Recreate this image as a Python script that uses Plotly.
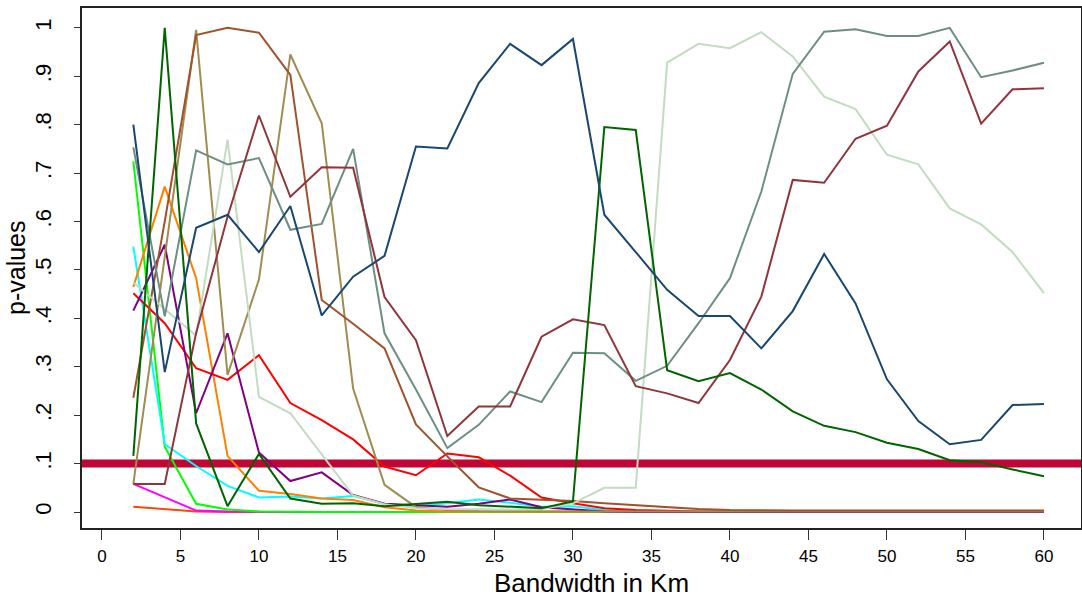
import plotly.graph_objects as go

bandwidth = [2, 4, 6, 8, 10, 12, 14, 16, 18, 20, 22, 24, 26, 28, 30,
             32, 34, 36, 38, 40, 42, 44, 46, 48, 50, 52, 54, 56, 58, 60]

s_navy = [0.80, 0.289, 0.587, 0.614, 0.537, 0.632, 0.406, 0.486, 0.529, 0.755,
          0.751, 0.886, 0.967, 0.923, 0.977, 0.614, 0.537, 0.459, 0.405, 0.405,
          0.338, 0.415, 0.533, 0.431, 0.274, 0.188, 0.140, 0.149, 0.221, 0.223]
s_maroon = [0.058, 0.058, 0.37, 0.61, 0.819, 0.651, 0.712, 0.711, 0.444, 0.355,
            0.157, 0.218, 0.218, 0.362, 0.398, 0.386, 0.260, 0.245, 0.225, 0.314,
            0.445, 0.686, 0.680, 0.771, 0.798, 0.910, 0.972, 0.802, 0.873, 0.875]
s_dkgreen = [0.116, 1.0, 0.183, 0.012, 0.12, 0.028, 0.017, 0.018, 0.012, 0.017,
             0.021, 0.014, 0.011, 0.008, 0.022, 0.795, 0.789, 0.293, 0.27, 0.287,
             0.253, 0.208, 0.178, 0.165, 0.143, 0.130, 0.107, 0.103, 0.088, 0.074]
s_sienna = [0.236, 0.6, 0.985, 1.0, 0.99, 0.903, 0.438, 0.389, 0.338, 0.181,
            0.115, 0.051, 0.028, 0.025, 0.023, 0.018, 0.014, 0.011, 0.006, 0.004,
            0.003, 0.003, 0.003, 0.003, 0.003, 0.003, 0.003, 0.003, 0.003, 0.003]
s_khaki = [0.058, 0.53, 0.996, 0.283, 0.48, 0.945, 0.803, 0.255, 0.056, 0.01,
           0.004, 0.002, 0.001, 0.001, 0.001, 0.001, 0.001, 0.001, 0.001, 0.001,
           0.001, 0.001, 0.001, 0.001, 0.001, 0.001, 0.001, 0.001, 0.001, 0.001]
s_teal = [0.753, 0.404, 0.747, 0.718, 0.731, 0.583, 0.595, 0.75, 0.369, 0.253,
          0.132, 0.18, 0.249, 0.227, 0.329, 0.328, 0.271, 0.302, 0.39, 0.483,
          0.662, 0.905, 0.992, 0.997, 0.983, 0.983, 1.0, 0.898, 0.912, 0.928]
s_pale = [0.474, 0.42, 0.364, 0.769, 0.238, 0.204, 0.12, 0.034, 0.016, 0.008,
          0.006, 0.005, 0.005, 0.006, 0.018, 0.05, 0.05, 0.928, 0.967, 0.958,
          0.991, 0.941, 0.858, 0.832, 0.738, 0.718, 0.627, 0.594, 0.537, 0.452]
s_red = [0.452, 0.39, 0.297, 0.273, 0.324, 0.225, 0.19, 0.15, 0.094, 0.076,
         0.121, 0.113, 0.075, 0.030, 0.018, 0.008, 0.004, 0.002, 0.001, 0.001,
         0.001, 0.0, 0.0, 0.0, 0.0, 0.0, 0.0, 0.0, 0.0, 0.0]
s_orange = [0.465, 0.672, 0.483, 0.116, 0.044, 0.037, 0.028, 0.025, 0.01, 0.003,
            0.001, 0.001, 0.0, 0.0, 0.0, 0.0, 0.0, 0.0, 0.0, 0.0,
            0.0, 0.0, 0.0, 0.0, 0.0, 0.0, 0.0, 0.0, 0.0, 0.0]
s_lime = [0.724, 0.135, 0.017, 0.005, 0.001, 0.0, 0.0, 0.0, 0.0, 0.0,
          0.0, 0.0, 0.0, 0.0, 0.0, 0.0, 0.0, 0.0, 0.0, 0.0,
          0.0, 0.0, 0.0, 0.0, 0.0, 0.0, 0.0, 0.0, 0.0, 0.0]
s_cyan = [0.548, 0.14, 0.095, 0.054, 0.030, 0.032, 0.028, 0.033, 0.017, 0.012,
          0.018, 0.026, 0.019, 0.011, 0.012, 0.004, 0.001, 0.0, 0.0, 0.0,
          0.0, 0.0, 0.0, 0.0, 0.0, 0.0, 0.0, 0.0, 0.0, 0.0]
s_purple = [0.416, 0.552, 0.204, 0.369, 0.123, 0.064, 0.082, 0.035, 0.017, 0.014,
            0.011, 0.017, 0.026, 0.01, 0.005, 0.001, 0.0, 0.0, 0.0, 0.0,
            0.0, 0.0, 0.0, 0.0, 0.0, 0.0, 0.0, 0.0, 0.0, 0.0]
s_magenta = [0.058, 0.03, 0.003, 0.001, 0.0, 0.0, 0.0, 0.0, 0.0, 0.0,
             0.0, 0.0, 0.0, 0.0, 0.0, 0.0, 0.0, 0.0, 0.0, 0.0,
             0.0, 0.0, 0.0, 0.0, 0.0, 0.0, 0.0, 0.0, 0.0, 0.0]
s_orangered = [0.011, 0.006, 0.001, 0.0, 0.0, 0.0, 0.0, 0.0, 0.0, 0.0,
               0.0, 0.0, 0.0, 0.0, 0.0, 0.0, 0.0, 0.0, 0.0, 0.0,
               0.0, 0.0, 0.0, 0.0, 0.0, 0.0, 0.0, 0.0, 0.0, 0.0]

threshold = 0.1
y_ticks = [0, 0.1, 0.2, 0.3, 0.4, 0.5, 0.6, 0.7, 0.8, 0.9, 1.0]
y_ticklabels = ["0", ".1", ".2", ".3", ".4", ".5", ".6", ".7", ".8", ".9", "1"]
x_ticks = [0, 5, 10, 15, 20, 25, 30, 35, 40, 45, 50, 55, 60]

series = [
    ("orangered", s_orangered, "#ff4500"),
    ("magenta", s_magenta, "#ff00ff"),
    ("lime", s_lime, "#00ff00"),
    ("cyan", s_cyan, "#00ffff"),
    ("orange", s_orange, "#ff7f00"),
    ("red", s_red, "#ff0000"),
    ("purple", s_purple, "#800080"),
    ("khaki", s_khaki, "#a08c50"),
    ("sienna", s_sienna, "#a0522d"),
    ("pale", s_pale, "#c3dbc1"),
    ("teal", s_teal, "#6e8e84"),
    ("maroon", s_maroon, "#90353b"),
    ("dkgreen", s_dkgreen, "#006400"),
    ("navy", s_navy, "#1a476f"),
]

X_RANGE = [-1.27, 62.36]
Y_RANGE = [-0.033, 1.041]

fig = go.Figure()

fig.add_trace(go.Scatter(x=X_RANGE, y=[threshold, threshold], mode="lines",
                         line=dict(color="#c10534", width=8), showlegend=False,
                         hoverinfo="skip"))

for name, vals, col in series:
    fig.add_trace(go.Scatter(x=bandwidth, y=vals, mode="lines", name=name,
                             line=dict(color=col, width=2), showlegend=False))

font_family = "Liberation Sans, Arial, sans-serif"

fig.update_layout(
    width=1082, height=597,
    margin=dict(l=82, r=1, t=8, b=69, autoexpand=False),
    paper_bgcolor="white", plot_bgcolor="white",
    font=dict(family=font_family, color="black"),
    showlegend=False,
)
fig.update_xaxes(
    range=X_RANGE, tickvals=x_ticks, ticks="outside", ticklen=10,
    tickwidth=1, tickcolor="#333", showgrid=False, zeroline=False,
    showline=True, linecolor="#222", linewidth=2, mirror=True,
    tickfont=dict(size=17), automargin=False, ticklabelstandoff=2,
)
fig.update_yaxes(
    range=Y_RANGE, tickvals=y_ticks, ticktext=y_ticklabels,
    ticks="outside", ticklen=6, tickwidth=1, tickcolor="#333",
    showgrid=False, zeroline=False, showline=True, linecolor="#222",
    linewidth=2, mirror=True, tickangle=-90, tickfont=dict(size=22),
    automargin=False, ticklabelstandoff=14,
)

fig.add_annotation(text="Bandwidth in Km", xref="paper", yref="paper",
                   x=0.51, y=0, yshift=-55, xanchor="center", yanchor="middle",
                   showarrow=False, font=dict(size=26))
fig.add_annotation(text="p-values", xref="paper", yref="paper",
                   x=0, y=0.5, xshift=-66, xanchor="center", yanchor="middle",
                   textangle=-90, showarrow=False, font=dict(size=25))

fig.write_html("out.html", config={"displayModeBar": False},
               post_script="document.body.style.margin='0px';document.body.style.padding='0px';")
